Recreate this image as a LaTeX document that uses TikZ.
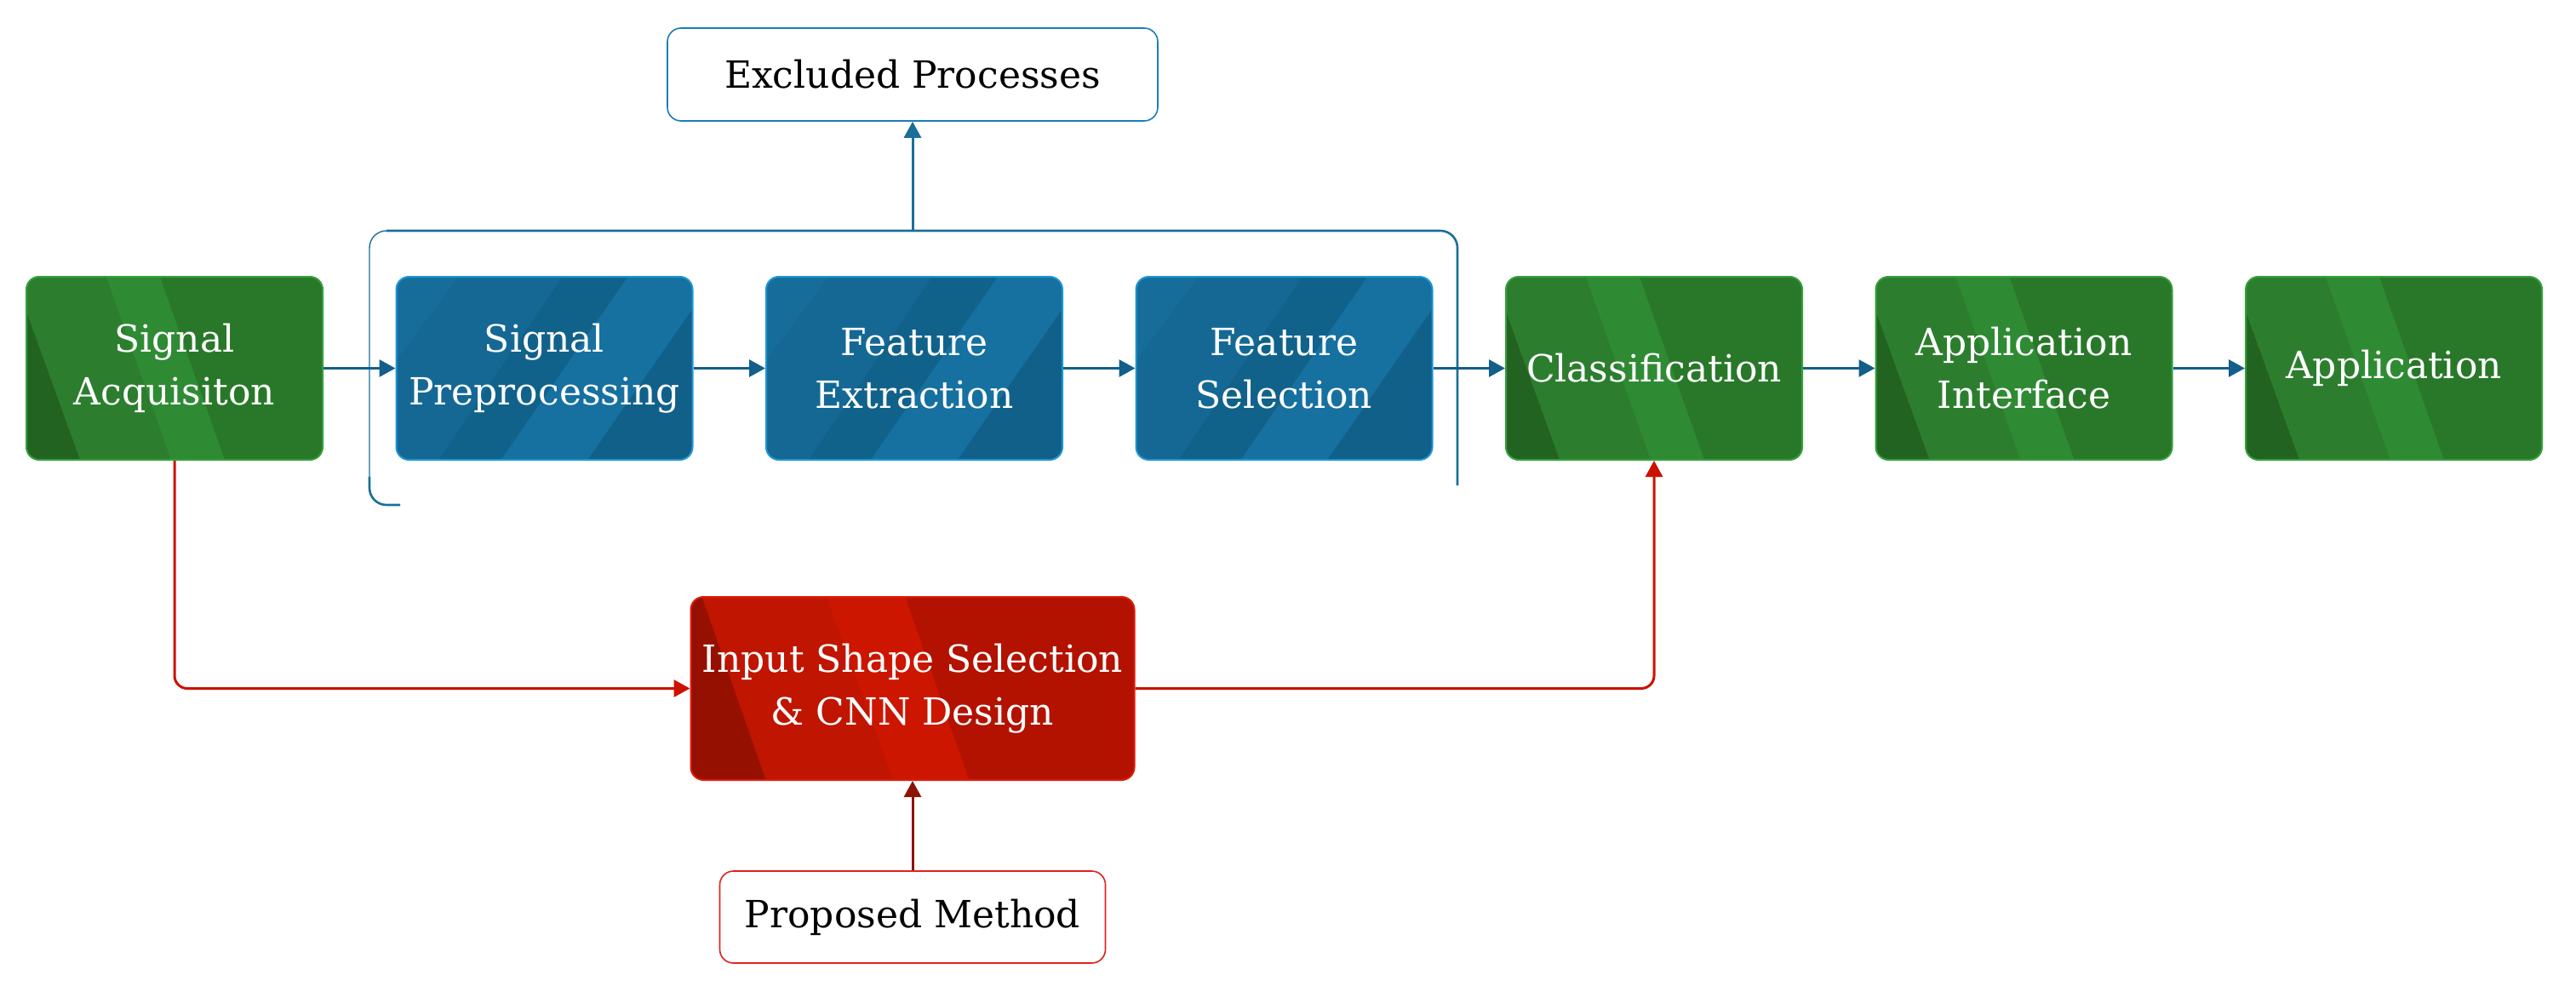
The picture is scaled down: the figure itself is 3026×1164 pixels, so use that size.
\documentclass[tikz,border=0pt]{standalone}
\usepackage{fontspec}
\setmainfont{DejaVu Serif}
\usetikzlibrary{arrows.meta}
\definecolor{gBase}{HTML}{2C7E2E}
\definecolor{gDark}{HTML}{236321}
\definecolor{gLight}{HTML}{2F8B33}
\definecolor{gRight}{HTML}{29782A}
\definecolor{gEdge}{HTML}{34A03A}
\definecolor{bA}{HTML}{176D99}
\definecolor{bB}{HTML}{156894}
\definecolor{bC}{HTML}{11628A}
\definecolor{bD}{HTML}{1670A0}
\definecolor{bE}{HTML}{10608A}
\definecolor{bEdge}{HTML}{1E96D4}
\definecolor{rBase}{HTML}{C01500}
\definecolor{rDark}{HTML}{961000}
\definecolor{rLight}{HTML}{CC1600}
\definecolor{rRight}{HTML}{B31200}
\definecolor{rEdge}{HTML}{E01A0A}
\definecolor{arrBlue}{HTML}{135E8A}
\definecolor{brBlue}{HTML}{1A6E9A}
\definecolor{exBlue}{HTML}{1A7DB5}
\definecolor{arrRed}{HTML}{CC1100}
\definecolor{arrDRed}{HTML}{8E1206}
\definecolor{prRed}{HTML}{E0231A}
\newcommand\PPc[2]{([shift={(#1pt,#2pt)}]path picture bounding box.south west)}
\tikzset{
  box/.style={rectangle, rounded corners=15pt, minimum width=348pt, minimum height=215pt,
    inner sep=0pt, align=center, text=white, font=\fontsize{44}{62}\selectfont, line width=2pt},
  gbox/.style={box, fill=gBase, draw=gEdge, path picture={
    \fill[gDark, sharp corners] \PPc{-5}{-5} -- \PPc{64.8}{-5} -- \PPc{-5}{187.8} -- cycle;
    \fill[gLight, sharp corners] \PPc{171.8}{-5} -- \PPc{234.8}{-5} -- \PPc{155.2}{220} -- \PPc{92.2}{220} -- cycle;
    \fill[gRight, sharp corners] \PPc{234.8}{-5} -- \PPc{360}{-5} -- \PPc{360}{220} -- \PPc{155.2}{220} -- cycle;
  }},
  bbox/.style={box, fill=bB, draw=bEdge, path picture={
    \fill[bA, sharp corners] \PPc{-5}{220} -- \PPc{76.7}{220} -- \PPc{-5}{110.3} -- cycle;
    \fill[bC, sharp corners] \PPc{46.6}{-5} -- \PPc{119.5}{-5} -- \PPc{275.5}{220} -- \PPc{198.4}{220} -- cycle;
    \fill[bD, sharp corners] \PPc{119.5}{-5} -- \PPc{221.5}{-5} -- \PPc{360}{194.3} -- \PPc{360}{220} -- \PPc{275.5}{220} -- cycle;
    \fill[bE, sharp corners] \PPc{221.5}{-5} -- \PPc{360}{-5} -- \PPc{360}{194.3} -- cycle;
  }},
  rbox/.style={box, minimum width=521pt, fill=rBase, draw=rEdge, path picture={
    \fill[rDark, sharp corners] \PPc{-5}{-5} -- \PPc{89.7}{-5} -- \PPc{11.3}{220} -- \PPc{-5}{220} -- cycle;
    \fill[rLight, sharp corners] \PPc{239.7}{-5} -- \PPc{328.7}{-5} -- \PPc{250.3}{220} -- \PPc{157.3}{220} -- cycle;
    \fill[rRight, sharp corners] \PPc{328.7}{-5} -- \PPc{530}{-5} -- \PPc{530}{220} -- \PPc{250.3}{220} -- cycle;
  }},
  wbox/.style={rectangle, rounded corners=16pt, inner sep=0pt, fill=white, text=black,
    font=\fontsize{44}{62}\selectfont, line width=1.6pt},
  barr/.style={draw=arrBlue, line width=3pt, -{Triangle[length=19pt,width=20pt]}},
  exarr/.style={draw=brBlue, line width=3pt, -{Triangle[length=19pt,width=20pt]}},
  rarr/.style={draw=arrRed, line width=3pt, rounded corners=15pt, -{Triangle[length=19pt,width=20pt]}},
  darr/.style={draw=arrDRed, line width=3pt, -{Triangle[length=19pt,width=20pt]}},
  brk/.style={draw=brBlue, line width=1.4pt, rounded corners=20pt},
  brkthick/.style={draw=brBlue, line width=2.6pt, rounded corners=20pt},
}
\begin{document}
\begin{tikzpicture}[x=1pt,y=-1pt]
\useasboundingbox (0,0) rectangle (3026,1164);
% bracket of excluded processes
\coordinate (bl) at (470,593);
\coordinate (blc) at (434,593);
\coordinate (tlc) at (434,271);
\coordinate (trc) at (1712,271);
\coordinate (br) at (1712,570);
\coordinate (brtop) at (1072,271);
\draw[brk] (bl) -- (blc) -- (tlc) -- (trc) -- (br);
\draw[brkthick] (454,271) -- (trc) -- (br);
\draw[brkthick] (bl) -- (blc) -- (434,560);
% main row
\node[gbox] (acq) at (205,432.5) {Signal\\Acquisiton};
\node[bbox] (pre) at (639.5,432.5) {Signal\\Preprocessing};
\node[bbox] (ext) at (1074,432.5) {Feature\\Extraction};
\node[bbox] (sel) at (1508.5,432.5) {Feature\\Selection};
\node[gbox] (cls) at (1943,432.5) {Classification};
\node[gbox] (api) at (2377.5,432.5) {Application\\Interface};
\node[gbox] (app) at (2812,432.5) {Application};
% other nodes
\node[wbox, draw=exBlue, minimum width=576pt, minimum height=109pt] (exc) at (1072,87.5) {Excluded Processes};
\node[rbox] (cnn) at (1072,808.5) {Input Shape Selection\\\& CNN Design};
\node[wbox, draw=prRed, minimum width=453pt, minimum height=108pt] (prop) at (1072,1077) {Proposed Method};
% connectors
\draw[exarr] (brtop) -- (exc);
\draw[barr] (acq) -- (pre);
\draw[barr] (pre) -- (ext);
\draw[barr] (ext) -- (sel);
\draw[barr] (sel) -- (cls);
\draw[barr] (cls) -- (api);
\draw[barr] (api) -- (app);
\draw[rarr] (acq.south) |- (cnn.west);
\draw[rarr] (cnn.east) -| (cls.south);
\draw[darr] (prop) -- (cnn);
\end{tikzpicture}
\end{document}
